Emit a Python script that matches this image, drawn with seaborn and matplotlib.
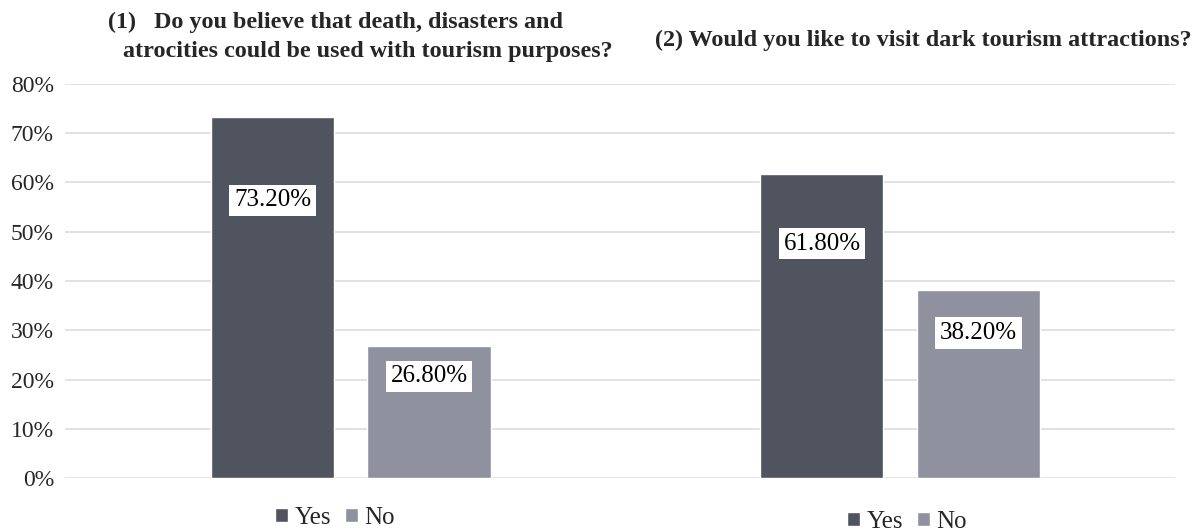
import matplotlib
matplotlib.use('Agg')
import matplotlib.pyplot as plt
import seaborn as sns
import pandas as pd

# survey results (percent)
questions = ["Q1", "Q2"]
answers = ["Yes", "No"]
yes_pct = [73.2, 61.8]
no_pct = [26.8, 38.2]
y_ticks = [0, 10, 20, 30, 40, 50, 60, 70, 80]

YES_COLOR = "#50545e"
NO_COLOR = "#8f919f"
GRID_COLOR = "#dcdbe3"

df = pd.DataFrame({
    "question": questions * 2,
    "answer": ["Yes"] * len(questions) + ["No"] * len(questions),
    "pct": yes_pct + no_pct,
})

sns.set_style("white")
plt.rcParams['font.family'] = ['Liberation Serif', 'DejaVu Serif']

W, H = 1192, 531
fig = plt.figure(figsize=(W / 100, H / 100), dpi=100)
ax = fig.add_axes([65 / W, 1 - 478 / H, 1110 / W, (478 - 84) / H])

sns.barplot(data=df, x="question", y="pct", hue="answer", hue_order=answers,
            palette=[YES_COLOR, NO_COLOR], saturation=1, width=0.57, gap=0.214,
            ax=ax)

handles, labels = ax.get_legend_handles_labels()
ax.get_legend().remove()

ax.set_xlim(-0.52, 1.50)
ax.set_ylim(0, 80)
ax.set_yticks(y_ticks)
ax.set_yticklabels([f"{v}%" for v in y_ticks], fontsize=17)
ax.set_xticks([])
ax.set_xlabel("")
ax.set_ylabel("")
ax.yaxis.grid(True, color=GRID_COLOR, lw=1.2)
ax.set_axisbelow(True)
ax.tick_params(axis='y', length=0, pad=8)
for s in ax.spines.values():
    s.set_visible(False)

# value labels in white boxes
for container in ax.containers:
    for bar in container:
        v = bar.get_height()
        ax.text(bar.get_x() + bar.get_width() / 2, v * 0.77, f"{v:.2f}%",
                ha='center', va='center', fontsize=18, color='black',
                bbox=dict(facecolor='white', edgecolor='none', pad=3.5))

# titles
fig.text(108 / W, 1 - 22 / H, "(1)   Do you believe that death, disasters and",
         ha='left', va='center', fontsize=17.4, fontweight='bold')
fig.text(123 / W, 1 - 52 / H, "atrocities could be used with tourism purposes?",
         ha='left', va='center', fontsize=17.4, fontweight='bold')
fig.text(655 / W, 1 - 40 / H, "(2) Would you like to visit dark tourism attractions?",
         ha='left', va='center', fontsize=17.4, fontweight='bold')

# one legend under each group
for cx, cy in [(335, 518), (907, 522)]:
    fig.legend(handles, labels, ncol=2, loc='center',
               bbox_to_anchor=(cx / W, 1 - cy / H), frameon=False,
               fontsize=18, handlelength=0.52, handleheight=0.52,
               handletextpad=0.25, columnspacing=0.55, borderpad=0.1)

fig.savefig("out.png", dpi=100)
plt.close(fig)
